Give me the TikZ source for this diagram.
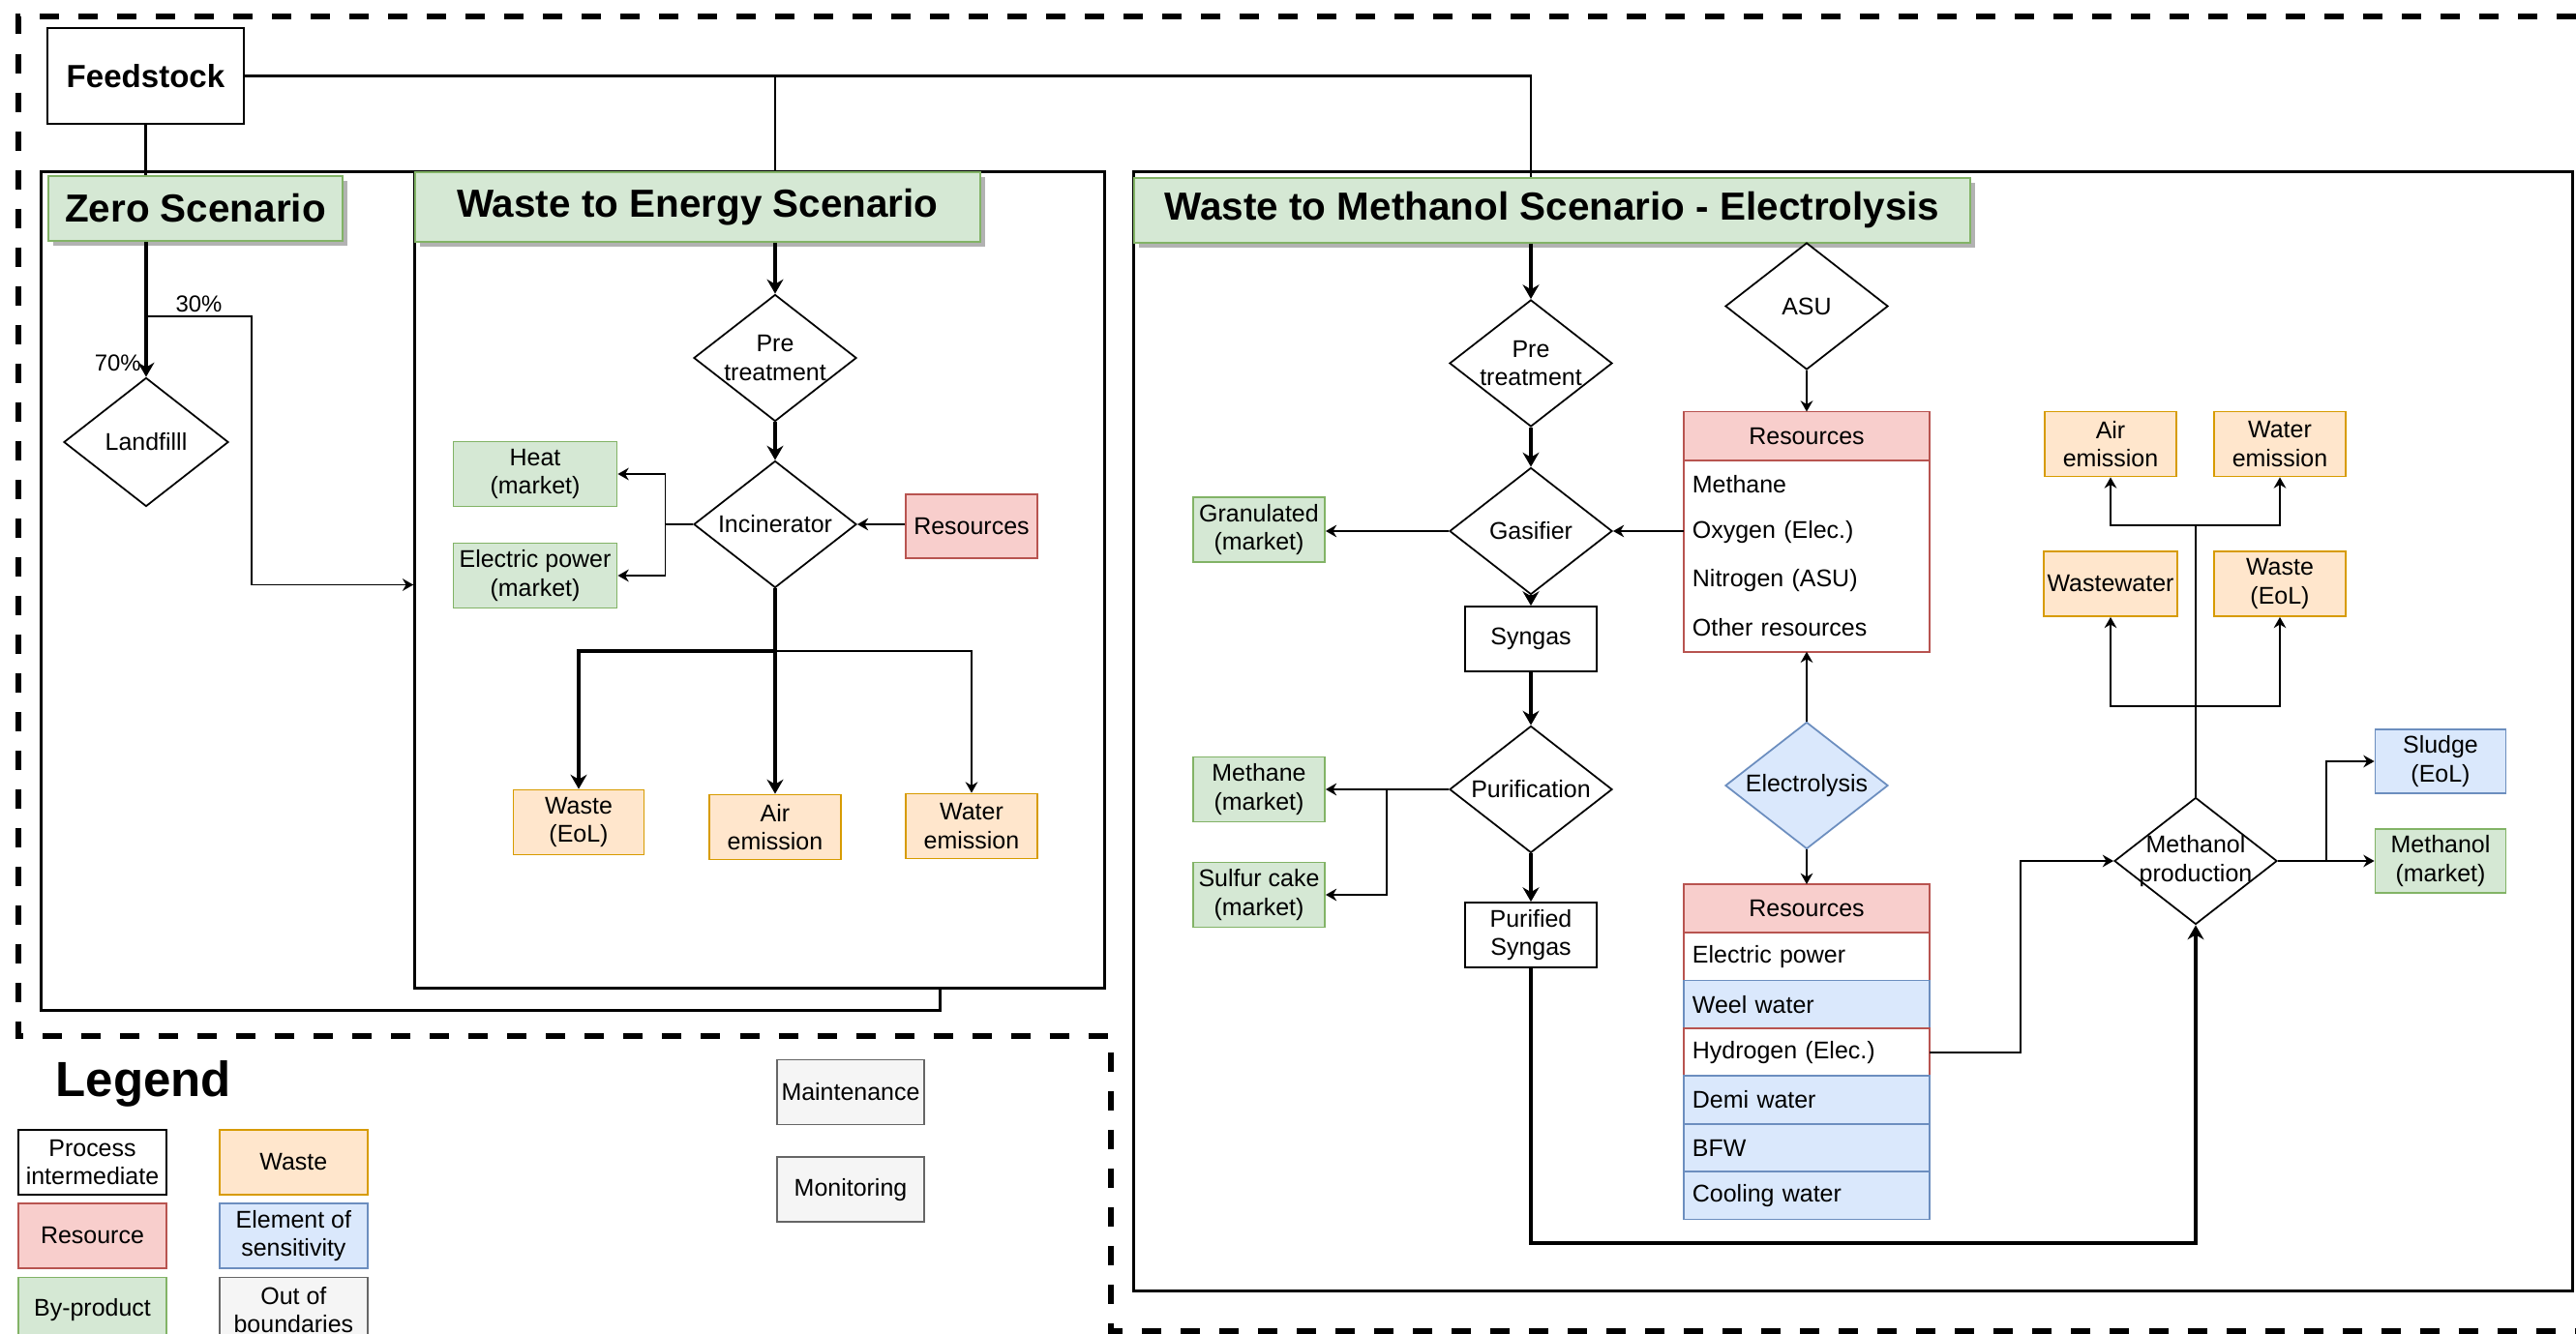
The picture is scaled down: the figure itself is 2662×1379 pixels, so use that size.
\documentclass[tikz,border=0pt]{standalone}
\usepackage{fontspec}
\setmainfont{Liberation Sans}
\usetikzlibrary{shapes.geometric, arrows.meta, positioning, shadows}

\definecolor{grnfill}{HTML}{D5E8D4}
\definecolor{grnline}{HTML}{82B366}
\definecolor{redfill}{HTML}{F8CECC}
\definecolor{redline}{HTML}{B85450}
\definecolor{orgfill}{HTML}{FFE6CC}
\definecolor{orgline}{HTML}{D79B00}
\definecolor{bluefill}{HTML}{DAE8FC}
\definecolor{blueline}{HTML}{6C8EBF}
\definecolor{grayfill}{HTML}{F5F5F5}
\definecolor{grayline}{HTML}{666666}

\begin{document}
\begin{tikzpicture}[
    x=0.01cm, y=-0.01cm,
    font=\fontsize{7.1}{8.3}\selectfont,
    box/.style={draw, line width=0.5pt, align=center, inner sep=1pt, minimum width=1.36cm, minimum height=0.67cm},
    proc/.style={box, fill=white, draw=black},
    res/.style={box, fill=redfill, draw=redline},
    byp/.style={box, fill=grnfill, draw=grnline},
    wst/.style={box, fill=orgfill, draw=orgline},
    sens/.style={box, fill=bluefill, draw=blueline},
    outb/.style={box, fill=grayfill, draw=grayline},
    diam/.style={shape=diamond, draw, line width=0.5pt, fill=white, inner sep=0pt, minimum width=1.68cm, minimum height=1.31cm, label={[align=center]center:#1}},
    ttl/.style={draw=grnline, fill=grnfill, line width=0.6pt, minimum height=0.67cm, font=\fontsize{11.5}{13}\selectfont\bfseries, drop shadow={shadow xshift=0.05cm, shadow yshift=-0.05cm, fill=black!30, opacity=1}},
    scen/.style={draw, line width=0.9pt, fill=white, inner sep=0pt},
    row/.style={line width=0.5pt, anchor=north, outer sep=0pt, minimum width=2.54cm, minimum height=0.494cm, text width=2.36cm, inner xsep=0.09cm, inner ysep=0pt, align=left},
    trunk/.style={line width=0.8pt},
    flow/.style={-{Stealth[length=3.2pt, width=3.6pt]}, line width=0.55pt},
    main/.style={-{Stealth[length=4.2pt, width=4.8pt]}, line width=1pt},
    pct/.style={font=\fontsize{6.8}{8}\selectfont, inner sep=1pt},
    bound/.style={line width=1.6pt, dash pattern=on 0.2cm off 0.2cm}
]
\useasboundingbox (0,0) rectangle (2662,1379);

% scenario frames
\node[scen, minimum width=9.28cm, minimum height=8.66cm] (zbox) at (507,611) {};
\node[scen, minimum width=7.12cm, minimum height=8.43cm] (wbox) at (785,599.5) {};
\node[scen, minimum width=14.86cm, minimum height=11.56cm] (mbox) at (1915,756) {};

% system boundary
\draw[bound] (2662,17) -- (19,17) -- (19,1071) -- (1148,1071) -- (1148,1376) -- (2662,1376);

\node[ttl, minimum width=3.04cm] (ztitle) at (202,215.5) {Zero Scenario};
\node[ttl, minimum width=5.84cm, minimum height=0.72cm] (wtitle) at (721,214) {Waste to Energy Scenario};
\node[ttl, minimum width=8.64cm] (mtitle) at (1604,217.5) {Waste to Methanol Scenario - Electrolysis};

\node[proc, minimum width=2.03cm, minimum height=0.99cm, font=\fontsize{9.4}{11}\selectfont\bfseries] (feed) at (150.5,78.5) {Feedstock};

% zero scenario
\node[diam={Landfilll}, minimum width=1.70cm, minimum height=1.33cm] (land) at (151,457) {};

% waste to energy
\node[diam={Pre\\treatment}] (pre1) at (801,370) {};
\node[diam={Incinerator}] (inc) at (801,542) {};
\node[res, minimum height=0.66cm] (resw) at (1004,544) {Resources};
\node[byp, minimum width=1.69cm] (heat) at (553,490) {Heat\\(market)};
\node[byp, minimum width=1.69cm] (elec) at (553,595) {Electric power\\(market)};
\node[wst, minimum width=1.35cm] (wastew) at (598,850) {Waste\\(EoL)};
\node[wst] (airw) at (801,855) {Air\\emission};
\node[wst] (waterw) at (1004,854) {Water\\emission};

% waste to methanol
\node[diam={Pre\\treatment}] (pre2) at (1582,375.5) {};
\node[diam={ASU}] (asu) at (1867,316.5) {};
\node[diam={Gasifier}] (gas) at (1582,549) {};
\node[byp] (gran) at (1301,547.5) {Granulated\\(market)};
\node[proc] (syn) at (1582,660.5) {Syngas};
\node[diam={Purification}] (pur) at (1582,816) {};
\node[byp] (meth) at (1301,816) {Methane\\(market)};
\node[byp] (sulf) at (1301,925) {Sulfur cake\\(market)};
\node[proc] (psyn) at (1582,966.5) {Purified\\Syngas};
\node[diam={Electrolysis}, fill=bluefill, draw=blueline] (ely) at (1867,812) {};

\node[res, anchor=north, outer sep=0pt, minimum width=2.54cm, minimum height=0.505cm] (r1h) at (1867,425.5) {Resources};
\node[row, below=0pt of r1h] (r1a) {Methane};
\node[row, below=0pt of r1a] (r1b) {Oxygen (Elec.)};
\node[row, below=0pt of r1b] (r1c) {Nitrogen (ASU)};
\node[row, below=0pt of r1c] (r1d) {Other resources};
\draw[redline, line width=0.5pt] (r1h.north west) rectangle (r1d.south east);

\node[res, anchor=north, outer sep=0pt, minimum width=2.54cm, minimum height=0.5cm] (r2h) at (1867,914) {Resources};
\node[row, draw=redline, fill=white, below=0pt of r2h] (r2a) {Electric power};
\node[row, draw=blueline, fill=bluefill, below=0pt of r2a] (r2b) {Weel water};
\node[row, draw=redline, fill=white, below=0pt of r2b] (r2c) {Hydrogen (Elec.)};
\node[row, draw=blueline, fill=bluefill, below=0pt of r2c] (r2d) {Demi water};
\node[row, draw=blueline, fill=bluefill, below=0pt of r2d] (r2e) {BFW};
\node[row, draw=blueline, fill=bluefill, below=0pt of r2e] (r2f) {Cooling water};

\node[diam={Methanol\\production}] (mprod) at (2269,890) {};
\node[sens, minimum width=1.35cm, minimum height=0.66cm] (sludge) at (2522,787) {Sludge\\(EoL)};
\node[byp, minimum width=1.35cm, minimum height=0.66cm] (methm) at (2522,890) {Methanol\\(market)};
\node[wst] (airm) at (2181,459) {Air\\emission};
\node[wst] (waterm) at (2356,459) {Water\\emission};
\node[wst] (wwm) at (2181,603.5) {Wastewater};
\node[wst] (wastem) at (2356,603.5) {Waste\\(EoL)};

% legend
\node[anchor=base west, font=\fontsize{14.5}{16}\selectfont\bfseries, inner sep=0pt] (leg) at (57,1133) {Legend};
\node[proc, minimum width=1.53cm] (lg1) at (95.5,1201.5) {Process\\intermediate};
\node[res, minimum width=1.53cm, below=0.07cm of lg1] (lg2) {Resource};
\node[byp, minimum width=1.53cm, below=0.08cm of lg2] (lg3) {By-product};
\node[wst, minimum width=1.53cm, right=0.53cm of lg1] (lg4) {Waste};
\node[sens, minimum width=1.53cm, right=0.53cm of lg2] (lg5) {Element of\\sensitivity};
\node[outb, minimum width=1.53cm, right=0.53cm of lg3] (lg6) {Out of\\boundaries};
\node[outb, minimum width=1.52cm] (maint) at (879,1129) {Maintenance};
\node[outb, minimum width=1.52cm, below=0.32cm of maint] (monit) {Monitoring};

% feedstock to the scenarios
\draw[trunk] (feed.east) -| (pre2.north |- mtitle.north);
\draw[trunk] (feed.east -| pre1.north) -- (pre1.north |- wtitle.north);
\draw[trunk] (feed.south) -- (feed.south |- ztitle.north);

% zero scenario
\draw[main] (land.north |- ztitle.south) -- node[pct, pos=0.9, left]{70\%} (land.north);
\coordinate (zsplit) at (151,327);
\coordinate (zbend) at (260,604.5);
\draw[flow] (zsplit) -- node[pct, above]{30\%} (zsplit -| zbend) -- (zbend) -- (zbend -| wbox.west);

% waste to energy
\draw[main] (pre1.north |- wtitle.south) -- (pre1.north);
\draw[main] (pre1.south) -- (inc.north);
\draw[flow] (inc.east -| resw.west) -- (inc.east);
\coordinate (ihub) at (687.5,542);
\draw[flow] (inc.west) -- (ihub) |- (heat.east);
\draw[flow] (ihub) |- (elec.east);
\coordinate (ohub) at (801,673);
\draw[main] (inc.south) -- (airw.north);
\draw[main] (ohub) -| (wastew.north);
\draw[flow] (ohub) -| (waterw.north);

% waste to methanol
\draw[main] (pre2.north |- mtitle.south) -- (pre2.north);
\draw[main] (pre2.south) -- (gas.north);
\draw[flow] (asu.south) -- (r1h.north);
\draw[flow] (gas.east -| r1b.west) -- (gas.east);
\draw[flow] (gas.west) -- (gas.west -| gran.east);
\draw[main] (gas.south) -- (syn.north);
\draw[main] (syn.south) -- (pur.north);
\coordinate (phub) at (1433,816);
\draw[flow] (pur.west) -- (meth.east);
\draw[flow] (phub) |- (sulf.east);
\draw[main] (pur.south) -- (psyn.north);
\draw[flow] (ely.north) -- (r1d.south);
\draw[flow] (ely.south) -- (r2h.north);
\coordinate (hbend) at (2088,890);
\draw[flow] (r2c.east) -| (hbend) -- (mprod.west);
\coordinate (sbend) at (2269,1285);
\draw[main] (psyn.south) |- (sbend) -- (mprod.south);
\coordinate (mhub) at (2404,890);
\draw[flow] (mprod.east) -- (methm.west);
\draw[flow] (mhub) |- (sludge.west);
\coordinate (uhub1) at (2269,730);
\coordinate (uhub2) at (2269,543);
\draw[flow] (mprod.north) -- (uhub2) -| (airm.south);
\draw[flow] (uhub2) -| (waterm.south);
\draw[flow] (uhub1) -| (wwm.south);
\draw[flow] (uhub1) -| (wastem.south);
\end{tikzpicture}
\end{document}
